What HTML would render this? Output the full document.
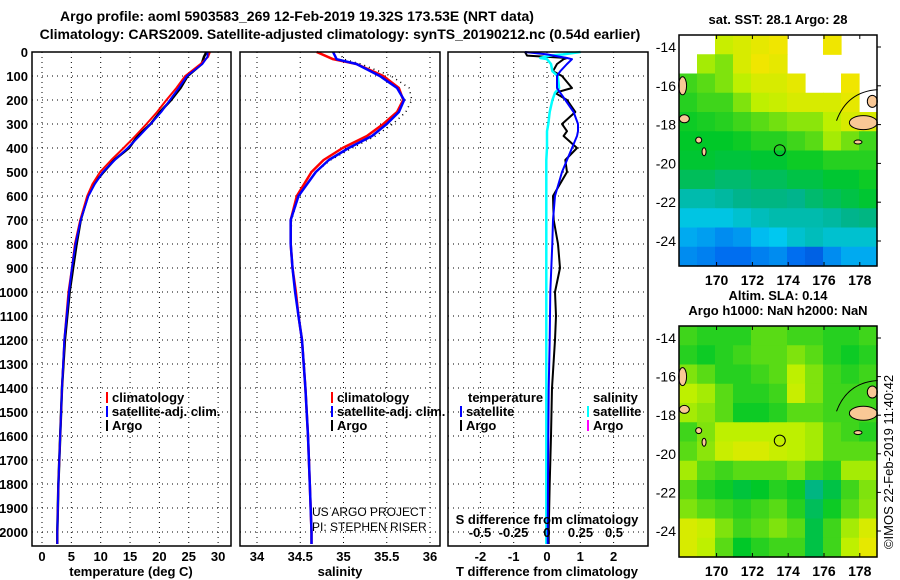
<!DOCTYPE html>
<html><head><meta charset="utf-8">
<style>
html,body{margin:0;padding:0;background:#fff;}
svg{display:block;font-family:"Liberation Sans",Arial,sans-serif;font-weight:bold;}
text{font-size:13px;fill:#000;}
</style></head>
<body>
<svg id="chart" width="900" height="580" viewBox="0 0 900 580" xmlns="http://www.w3.org/2000/svg">
<text x="297" y="21" text-anchor="middle" style="font-size:14px">Argo profile: aoml 5903583_269 12-Feb-2019 19.32S 173.53E (NRT data)</text>
<text x="340" y="39" text-anchor="middle" style="font-size:14px">Climatology: CARS2009. Satellite-adjusted climatology: synTS_20190212.nc (0.54d earlier)</text>
<g id="g"></g>
</svg>
<script>
// ---- data ----
const depthT = [0,20,50,100,150,200,250,300,350,400,450,500,550,600,700,800,900,1000,1200,1400,1600,1800,2000,2050];
const tempClim = [28.6,28.3,27.0,24.4,22.9,21.2,19.6,17.8,15.9,13.9,11.8,9.9,8.6,7.7,6.5,5.6,5.1,4.5,3.8,3.4,3.1,2.8,2.6,2.6];
const tempSat  = [28.2,28.2,27.3,24.7,23.3,21.8,20.3,18.5,16.6,14.6,12.4,10.4,9.0,7.9,6.6,5.7,5.1,4.6,3.8,3.4,3.1,2.8,2.6,2.6];
const tempArgo = [28.0,27.6,27.2,24.8,23.6,22.0,20.1,18.5,16.3,14.8,12.3,10.5,8.8,7.8,6.6,5.9,5.3,4.7,3.9,3.4,3.1,2.8,2.6,2.6];
const depthS = [0,30,50,100,150,200,250,300,350,400,450,500,600,700,800,900,1000,1100,1200,1400,1600,1800,2000,2050];
const salClim = [34.69,34.88,35.15,35.46,35.64,35.69,35.62,35.46,35.27,34.99,34.77,34.63,34.46,34.39,34.39,34.41,34.45,34.48,34.52,34.56,34.59,34.61,34.63,34.63];
const salSat  = [34.88,34.92,35.15,35.42,35.62,35.70,35.64,35.50,35.33,35.06,34.83,34.68,34.48,34.39,34.39,34.41,34.44,34.48,34.52,34.56,34.59,34.61,34.63,34.63];
const salArgo = [34.95,35.00,35.20,35.55,35.76,35.79,35.72,35.57,35.37,35.10,34.85,34.68,34.48,34.40,34.39,34.41,34.45,34.48,34.52,34.56,34.59,34.61,34.63,34.63];
const depthD = [0,10,15,25,30,50,80,100,150,170,200,250,300,330,350,400,450,500,600,700,800,900,1000,1100,1200,1400,1600,1800,2000,2050];
const tDiffSat  = [-0.66,0,0.2,0.6,0.75,0.6,0.4,0.3,0.3,0.4,0.55,0.8,0.93,0.93,0.9,0.75,0.6,0.45,0.24,0.18,0.16,0.13,0.1,0.09,0.08,0.05,0.04,0.03,0.02,0.02];
const tDiffArgo = [-0.66,-0.62,-0.6,0.6,0.5,0.3,0.18,0.45,0.75,0.24,0.6,0.85,0.45,0.6,0.5,0.9,0.55,0.6,0.18,0.2,0.33,0.39,0.24,0.27,0.24,0.15,0.12,0.08,0.05,0.05];
const sDiffSat  = [0.25,0.12,0.02,-0.05,0.0,0.03,0.04,0.08,0.09,0.06,0.04,0.02,0.01,0.0,0.0,0.0,-0.005,-0.005,-0.005,-0.005,-0.005,-0.005,-0.005,-0.005,-0.005,-0.005,-0.005,-0.005,-0.005,-0.005];
const tempTicks = [0,5,10,15,20,25,30];
const salTicks = [34,34.5,35,35.5,36];
const salTickLabels = ["34","34.5","35","35.5","36"];
const tdTicks = [-2,-1,0,1,2];
const sdTicks = [-0.5,-0.25,0,0.25,0.5];
const sdTickLabels = ["-0.5","-0.25","0","0.25","0.5"];
const depthTicks = [0,100,200,300,400,500,600,700,800,900,1000,1100,1200,1300,1400,1500,1600,1700,1800,1900,2000];
const lonTicks = [170,172,174,176,178];
const latTicks = [-14,-16,-18,-20,-22,-24];
// SST map (normalized colour index, -1 = no data), rows from north to south, 11 cols 168..179E
const sstGrid = [
[-1,-1,0.82,0.85,0.88,0.9,-1,-1,0.9,-1,-1],
[-1,0.78,0.75,0.85,0.9,0.88,-1,-1,-1,-1,-1],
[0.7,0.72,0.75,0.8,0.85,0.85,0.88,-1,-1,0.9,-1],
[0.68,0.7,0.7,0.75,0.8,0.82,0.85,0.85,0.85,0.88,-1],
[0.66,0.67,0.68,0.7,0.72,0.74,0.76,0.76,0.8,0.85,0.85],
[0.65,0.65,0.65,0.66,0.68,0.68,0.7,0.72,0.78,0.74,0.7],
[0.64,0.64,0.63,0.63,0.64,0.64,0.66,0.66,0.68,0.68,0.68],
[0.6,0.6,0.58,0.58,0.6,0.6,0.62,0.62,0.64,0.64,0.66],
[0.5,0.5,0.52,0.55,0.56,0.56,0.55,0.58,0.6,0.62,0.64],
[0.42,0.42,0.42,0.45,0.48,0.5,0.5,0.5,0.52,0.55,0.56],
[0.35,0.33,0.3,0.32,0.38,0.4,0.45,0.48,0.45,0.45,0.45],
[0.3,0.28,0.25,0.25,0.28,0.3,0.25,0.22,0.3,0.35,0.35]];
const slaGrid = [
[0.7,0.68,0.68,0.68,0.72,0.72,0.7,0.7,0.68,0.68,0.7],
[0.68,0.66,0.68,0.7,0.72,0.72,0.75,0.72,0.68,0.66,0.68],
[0.75,0.72,0.68,0.68,0.7,0.72,0.8,0.75,0.7,0.68,0.7],
[0.8,0.78,0.72,0.68,0.68,0.7,0.82,0.75,0.7,0.7,0.7],
[0.78,0.76,0.72,0.66,0.66,0.68,0.72,0.72,0.7,0.7,0.7],
[0.7,0.75,0.8,0.8,0.8,0.8,0.8,0.78,0.72,0.7,0.68],
[0.72,0.76,0.82,0.85,0.85,0.82,0.8,0.78,0.72,0.72,0.72],
[0.78,0.72,0.7,0.72,0.72,0.72,0.75,0.7,0.68,0.78,0.78],
[0.72,0.68,0.66,0.63,0.65,0.68,0.66,0.56,0.62,0.7,0.75],
[0.75,0.72,0.7,0.68,0.7,0.72,0.68,0.6,0.66,0.72,0.76],
[0.85,0.82,0.75,0.7,0.72,0.75,0.72,0.62,0.7,0.78,0.85],
[0.85,0.8,0.72,0.65,0.68,0.7,0.7,0.62,0.7,0.8,0.88]];
const floatLon = 173.53, floatLat = -19.32;

// ---- helpers ----
const NS="http://www.w3.org/2000/svg";
const G=document.getElementById('g');
function mk(tag,attrs,parent){const e=document.createElementNS(NS,tag);for(const k in attrs)e.setAttribute(k,attrs[k]);(parent||G).appendChild(e);return e;}
function txt(x,y,s,anchor,extra){const e=mk('text',Object.assign({x:x,y:y,'text-anchor':anchor||'start'},extra||{}));e.textContent=s;return e;}
const yD = d => 52 + d*0.24;
const P1={x0:32,x1:231}, P2={x0:240,x1:440}, P3={x0:448,x1:648};
const xT = v => 42 + v*5.87;
const xS = v => 257 + (v-34)*86.5;
const xTD = v => 547 + v*33.3;
const xSD = v => 547 + v*134;

function frame(P,name){
  const r=mk('rect',{x:P.x0,y:52,width:P.x1-P.x0,height:494,fill:'none',stroke:'#000','stroke-width':1.5});
  
  
}
function hgrid(P){depthTicks.forEach(d=>{if(d>0){const l=mk('line',{x1:P.x0,x2:P.x1,y1:yD(d),y2:yD(d),stroke:'#000','stroke-dasharray':'1,4','stroke-width':1});
  }});}
function vgrid(xs){xs.forEach(x=>{const l=mk('line',{x1:x,x2:x,y1:52,y2:546,stroke:'#000','stroke-dasharray':'1,4','stroke-width':1});
  });}
function line(depths,vals,fx,color,w,name,dash){
  const pts=depths.map((d,i)=>fx(vals[i]).toFixed(1)+','+yD(d).toFixed(1)).join(' ');
  const a={points:pts,fill:'none',stroke:color,'stroke-width':w,'stroke-linejoin':'round'};
  if(dash)a['stroke-dasharray']=dash;
  const p=mk('polyline',a);
  
  
}
function legend(x,y,items){items.forEach((it,i)=>{
  const m=mk('rect',{x:x,y:y+i*14-10,width:2,height:11,fill:it[1]});
  
  const t=txt(x+6,y+i*14,it[0]);
  
});}

// depth axis labels
depthTicks.forEach(d=>{const t=txt(28,yD(d)+5,String(d),'end');});

// panel 1
hgrid(P1); vgrid(tempTicks.map(xT));
line(depthT,tempArgo,xT,'#000',2.5,'temp-argo-line');
line(depthT,tempClim,xT,'#f00',2,'temp-climatology-line');
line(depthT,tempSat,xT,'#00f',2,'temp-satellite-line');
frame(P1,'temperature-panel');
tempTicks.forEach(v=>{const t=txt(xT(v),561,String(v),'middle');});
txt(131,576,'temperature (deg C)','middle');
legend(106,402,[['climatology','#f00'],['satellite-adj. clim.','#00f'],['Argo','#000']]);

// panel 2
hgrid(P2); vgrid(salTicks.map(xS));
line(depthS,salArgo,xS,'#000',1.5,'sal-argo-line','1,4');
line(depthS,salClim,xS,'#f00',2.5,'sal-climatology-line');
line(depthS,salSat,xS,'#00f',2.5,'sal-satellite-line');
frame(P2,'salinity-panel');
salTicks.forEach((v,i)=>{const t=txt(xS(v),561,salTickLabels[i],'middle');});
txt(340,576,'salinity','middle');
legend(331,402,[['climatology','#f00'],['satellite-adj. clim.','#00f'],['Argo','#000']]);
txt(312,516,'US ARGO PROJECT','start',{style:'font-weight:normal;font-size:12px'});
txt(312,531,'PI: STEPHEN RISER','start',{style:'font-weight:normal;font-size:12px'});

// panel 3
hgrid(P3); vgrid(tdTicks.map(xTD));
line(depthD,tDiffArgo,xTD,'#000',2,'tdiff-argo-line');
line(depthD,sDiffSat,xSD,'#0ff',2.5,'sdiff-satellite-line');
line(depthD,tDiffSat,xTD,'#00f',2,'tdiff-satellite-line');
frame(P3,'difference-panel');
tdTicks.forEach(v=>{const t=txt(xTD(v),561,String(v),'middle');});
sdTicks.forEach((v,i)=>{const t=txt(xSD(v),537,sdTickLabels[i],'middle');});
txt(547,524,'S difference from climatology','middle');
txt(547,576,'T difference from climatology','middle');
txt(468,402,'temperature');
legend(460,416,[['satellite','#00f'],['Argo','#000']]);
txt(593,402,'salinity');
legend(587,416,[['satellite','#0ff'],['Argo','#f0f']]);

// ---- maps ----
function cmap(v){
  const stops=[[0,[0,0,140]],[0.25,[0,110,240]],[0.4,[0,200,240]],[0.55,[0,180,140]],[0.65,[0,200,40]],[0.8,[190,240,0]],[0.9,[240,230,0]],[1,[250,200,40]]];
  for(let i=1;i<stops.length;i++){if(v<=stops[i][0]){const a=stops[i-1],b=stops[i];const t=(v-a[0])/(b[0]-a[0]);
    return 'rgb('+a[1].map((c,k)=>Math.round(c+(b[1][k]-c)*t)).join(',')+')';}}
  return 'rgb(250,200,40)';
}
function drawMap(M,grid,name){
  const xL = lon => M.x0 + (lon-167.9)*17.9;
  const yL = lat => M.y14 + (-14-lat)*M.sy;
  const rows=grid.length, cols=grid[0].length;
  const cw=(M.x1-M.x0)/cols, ch=(M.y1-M.y0)/rows;
  grid.forEach((row,r)=>row.forEach((v,c)=>{
    if(v<0)return;
    const cell=mk('rect',{x:M.x0+c*cw,y:M.y0+r*ch,width:cw+0.6,height:ch+0.6,fill:cmap(v)});
    
    
  }));
  // islands
  [[178.2,-17.9,14,7],[178.7,-16.8,5,6],[168.1,-16.0,4,9],[168.2,-17.7,5,4],[169.0,-18.8,3,3],[169.3,-19.4,2,4],[177.9,-18.9,4,2]].forEach(s=>{
    const e=mk('ellipse',{cx:xL(s[0]),cy:yL(s[1]),rx:s[2],ry:s[3],fill:'#f9c896',stroke:'#000','stroke-width':1});
    
  });
  const arc=mk('path',{d:`M${xL(176.7)},${yL(-17.8)} Q${xL(177.3)},${yL(-16.3)} ${xL(179)},${yL(-16.2)}`,fill:'none',stroke:'#000','stroke-width':1});
  
  const c=mk('circle',{cx:xL(floatLon),cy:yL(floatLat),r:5.5,fill:'none',stroke:'#000','stroke-width':1});
  
  const f=mk('rect',{x:M.x0,y:M.y0,width:M.x1-M.x0,height:M.y1-M.y0,fill:'none',stroke:'#000','stroke-width':1.5});
  
  lonTicks.forEach(l=>{
    mk('line',{x1:xL(l),x2:xL(l),y1:M.y0,y2:M.y0+4,stroke:'#000'});
    mk('line',{x1:xL(l),x2:xL(l),y1:M.y1,y2:M.y1-4,stroke:'#000'});
    const t=txt(xL(l),M.y1+19,String(l),'middle',{style:'font-size:14px'});
    
  });
  latTicks.forEach(l=>{
    mk('line',{x1:M.x1,x2:M.x1+4,y1:yL(l),y2:yL(l),stroke:'#000'});
    const t=txt(M.x0-3,yL(l)+5,String(l),'end',{style:'font-size:14px;font-weight:normal'});
    
  });
}
drawMap({x0:679,x1:877,y0:35,y1:266,y14:47,sy:19.4},sstGrid,'sst-map');
drawMap({x0:679,x1:877,y0:326,y1:557,y14:338,sy:19.3},slaGrid,'sla-map');
txt(778,24,'sat. SST: 28.1 Argo: 28','middle');
txt(778,300,'Altim. SLA: 0.14','middle');
txt(778,315,'Argo h1000: NaN h2000: NaN','middle');
const stamp=txt(0,0,'©IMOS 22-Feb-2019 11:40:42','middle',{transform:'translate(893,462) rotate(-90)',style:'font-weight:normal;font-size:13px'});

</script>
</body></html>
